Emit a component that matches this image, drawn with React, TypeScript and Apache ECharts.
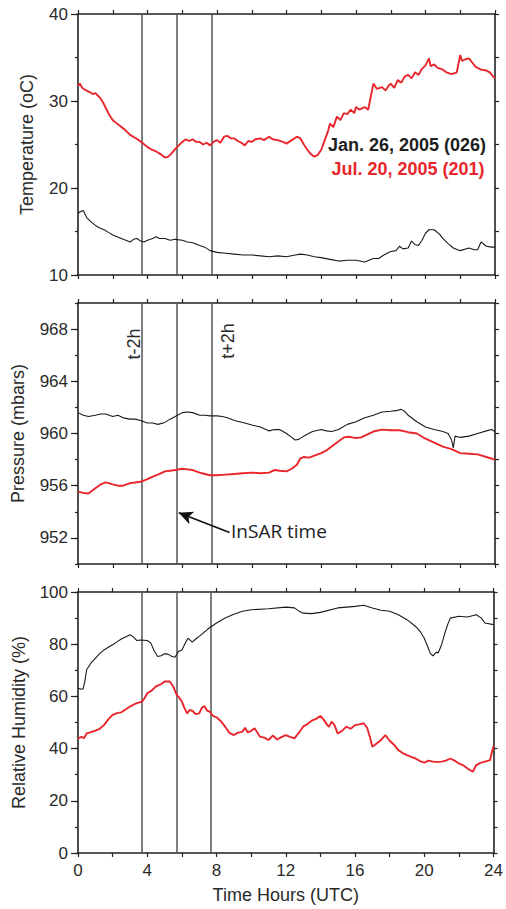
import React, { useEffect, useRef } from "react";
import * as echarts from "echarts";

// ---------- data (hours UTC, value) ----------
const tempJan: [number, number][] = [
  [0, 17.1], [0.15, 17.3], [0.3, 17.4], [0.5, 16.6], [0.75, 16.1], [1, 15.7], [1.25, 15.4], [1.5, 15.2],
  [1.75, 14.9], [2, 14.6], [2.25, 14.4], [2.5, 14.2], [2.75, 14.0], [3, 13.8], [3.2, 14.1], [3.4, 14.2],
  [3.6, 13.9], [3.8, 13.8], [4, 14.0], [4.3, 14.2], [4.5, 14.4], [4.7, 14.2], [5, 14.2], [5.3, 14.0],
  [5.6, 14.1], [6, 14.0], [6.3, 13.8], [6.6, 13.7], [7, 13.4], [7.3, 13.2], [7.6, 12.8], [8, 12.6],
  [8.5, 12.5], [9, 12.4], [9.5, 12.3], [10, 12.3], [10.5, 12.2], [11, 12.1], [11.5, 12.2], [12, 12.1],
  [12.5, 12.3], [12.8, 12.4], [13.2, 12.3], [13.6, 12.1], [14, 12.0], [14.5, 11.8], [15, 11.6], [15.5, 11.7],
  [16, 11.7], [16.5, 11.5], [17, 11.9], [17.3, 11.9], [17.6, 12.3], [18, 12.7], [18.3, 12.8], [18.5, 13.3],
  [18.7, 13.0], [19, 13.1], [19.2, 13.9], [19.4, 13.5], [19.6, 13.4], [19.8, 14.0], [20, 14.8], [20.2, 15.2],
  [20.5, 15.2], [20.8, 14.7], [21, 14.2], [21.3, 13.6], [21.6, 13.1], [22, 12.8], [22.5, 13.1], [22.8, 12.9],
  [23, 12.9], [23.2, 13.8], [23.5, 13.3], [23.8, 13.2], [24, 13.2],
];

const tempJul: [number, number][] = [
  [0, 31.8], [0.1, 32.0], [0.25, 31.5], [0.4, 31.3], [0.5, 31.2], [0.7, 31.0], [0.85, 30.8], [1, 30.9],
  [1.15, 30.6], [1.3, 30.3], [1.45, 29.8], [1.6, 29.2], [1.75, 28.6], [1.9, 28.1], [2, 27.8], [2.25, 27.4],
  [2.5, 27.0], [2.75, 26.6], [3, 26.1], [3.25, 25.8], [3.5, 25.5], [3.7, 25.2], [4, 24.7], [4.25, 24.4],
  [4.5, 24.2], [4.75, 23.9], [5, 23.5], [5.2, 23.6], [5.4, 24.0], [5.6, 24.5], [5.8, 24.9], [6, 25.3],
  [6.2, 25.6], [6.4, 25.4], [6.6, 25.6], [6.8, 25.3], [7, 25.3], [7.2, 25.0], [7.4, 25.2], [7.6, 24.9],
  [7.8, 25.3], [8, 25.5], [8.2, 25.2], [8.4, 25.9], [8.6, 26.0], [8.8, 25.7], [9, 25.7], [9.2, 25.4],
  [9.4, 25.2], [9.6, 24.9], [9.8, 25.4], [10, 25.3], [10.2, 25.6], [10.5, 25.7], [10.7, 25.5], [11, 25.9],
  [11.2, 25.6], [11.5, 25.5], [11.8, 25.3], [12, 25.1], [12.3, 25.5], [12.6, 25.9], [12.8, 25.7], [13, 25.0],
  [13.2, 24.4], [13.4, 23.9], [13.6, 23.6], [13.8, 23.8], [14, 24.4], [14.2, 25.5], [14.4, 26.6], [14.5, 27.4],
  [14.7, 27.0], [14.9, 28.2], [15.1, 27.8], [15.3, 28.6], [15.5, 28.5], [15.7, 29.0], [15.9, 28.6], [16, 29.3],
  [16.2, 29.0], [16.5, 29.3], [16.7, 29.0], [16.9, 31.0], [17, 32.0], [17.2, 31.4], [17.5, 31.6], [17.7, 31.2],
  [17.9, 31.8], [18, 32.0], [18.2, 31.5], [18.4, 32.4], [18.6, 32.1], [18.8, 32.8], [19, 33.0], [19.2, 32.6],
  [19.4, 33.3], [19.6, 33.0], [19.8, 33.7], [20, 34.1], [20.2, 34.9], [20.3, 34.0], [20.5, 34.2], [20.7, 33.8],
  [21, 33.6], [21.2, 33.3], [21.5, 33.1], [21.8, 33.3], [22, 35.3], [22.1, 34.6], [22.3, 34.8], [22.5, 34.9],
  [22.7, 34.4], [22.9, 33.9], [23, 33.8], [23.2, 33.6], [23.5, 33.5], [23.7, 33.3], [23.9, 32.8], [24, 32.6],
];

const presJan: [number, number][] = [
  [0, 961.6], [0.3, 961.4], [0.6, 961.3], [1, 961.4], [1.3, 961.5], [1.6, 961.5], [2, 961.3], [2.3, 961.4],
  [2.6, 961.2], [3, 961.1], [3.3, 961.1], [3.6, 961.0], [4, 960.8], [4.3, 960.8], [4.6, 960.7], [5, 960.85],
  [5.3, 961.1], [5.6, 961.3], [6, 961.6], [6.3, 961.65], [6.6, 961.6], [7, 961.4], [7.3, 961.4], [7.6, 961.35],
  [8, 961.35], [8.3, 961.3], [8.6, 961.2], [9, 961.0], [9.3, 960.9], [9.6, 960.8], [10, 960.65], [10.5, 960.5],
  [11, 960.2], [11.3, 960.3], [11.6, 960.3], [12, 960.0], [12.3, 959.7], [12.5, 959.5], [12.7, 959.55], [13, 959.8],
  [13.5, 960.15], [14, 960.3], [14.3, 960.2], [14.6, 960.15], [15, 960.3], [15.5, 960.7], [16, 960.9], [16.5, 961.2],
  [17, 961.4], [17.5, 961.65], [18, 961.7], [18.3, 961.75], [18.6, 961.85], [18.8, 961.7], [19, 961.4], [19.5, 960.9],
  [20, 960.5], [20.5, 960.3], [21, 960.15], [21.3, 960.0], [21.5, 959.5], [21.6, 958.9], [21.7, 959.8], [22, 959.7],
  [22.5, 959.8], [23, 960.0], [23.5, 960.2], [23.8, 960.3], [24, 960.15],
];

const presJul: [number, number][] = [
  [0, 955.55], [0.3, 955.45], [0.6, 955.4], [1, 955.8], [1.3, 956.1], [1.6, 956.25], [2, 956.1], [2.3, 956.0],
  [2.6, 956.0], [3, 956.2], [3.3, 956.25], [3.6, 956.3], [4, 956.5], [4.3, 956.7], [4.6, 956.85], [5, 957.1],
  [5.3, 957.15], [5.6, 957.2], [6, 957.3], [6.3, 957.25], [6.6, 957.2], [7, 957.0], [7.3, 956.9], [7.6, 956.8],
  [8, 956.8], [8.5, 956.85], [9, 956.9], [9.5, 956.95], [10, 957.0], [10.5, 956.95], [11, 957.0], [11.3, 957.2],
  [11.6, 957.15], [12, 957.1], [12.3, 957.3], [12.6, 957.6], [12.8, 958.1], [13, 958.2], [13.3, 958.15], [13.6, 958.3],
  [14, 958.5], [14.3, 958.7], [14.6, 959.0], [15, 959.4], [15.3, 959.7], [15.6, 959.75], [16, 959.65], [16.3, 959.7],
  [16.6, 959.9], [17, 960.15], [17.5, 960.3], [18, 960.25], [18.5, 960.25], [19, 960.1], [19.5, 960.0], [20, 959.6],
  [20.5, 959.3], [21, 959.0], [21.5, 958.8], [22, 958.5], [22.5, 958.45], [23, 958.4], [23.5, 958.2], [24, 958.0],
];

const rhJan: [number, number][] = [
  [0, 63.1], [0.15, 62.8], [0.3, 62.9], [0.4, 66], [0.5, 70.2], [0.75, 72.8], [1, 74.6], [1.25, 76.4],
  [1.5, 77.8], [1.75, 78.8], [2, 79.8], [2.25, 80.9], [2.5, 82.0], [2.75, 82.8], [3, 83.6], [3.2, 82.8],
  [3.4, 81.4], [3.6, 81.6], [4, 81.4], [4.2, 80.5], [4.4, 77.5], [4.6, 75.3], [4.8, 75.6], [5, 76.3],
  [5.2, 76.2], [5.4, 75.4], [5.6, 75.0], [5.8, 77.2], [6, 77.8], [6.2, 80.5], [6.35, 82.3], [6.6, 80.8],
  [6.8, 82.0], [7, 83.0], [7.5, 85.8], [8, 88.1], [8.5, 90.0], [9, 91.5], [9.5, 92.6], [10, 93.2],
  [11, 93.6], [12, 94.2], [12.5, 93.9], [12.8, 92.5], [13, 91.9], [13.5, 91.7], [14, 92.2], [15, 93.9],
  [16, 94.5], [16.5, 94.9], [17, 93.9], [17.5, 93.0], [18, 92.6], [18.5, 91.3], [19, 89.4], [19.5, 86.8],
  [19.8, 84.5], [20, 82.3], [20.2, 79.0], [20.35, 76.5], [20.5, 75.5], [20.7, 77.0], [20.8, 76.6], [21, 79.8],
  [21.2, 84.5], [21.35, 87.5], [21.5, 90.0], [22, 90.7], [22.5, 90.4], [23, 91.3], [23.3, 90.0], [23.5, 88.1],
  [24, 87.5],
];

const rhJul: [number, number][] = [
  [0, 43.9], [0.2, 44.5], [0.35, 44.0], [0.5, 45.8], [0.75, 46.3], [1, 46.9], [1.25, 47.6], [1.5, 49.0],
  [1.75, 51.2], [2, 52.9], [2.25, 53.6], [2.5, 53.9], [2.75, 55.0], [3, 56.1], [3.25, 57.0], [3.5, 57.6],
  [3.7, 58.0], [3.85, 59.4], [4, 61.2], [4.25, 62.2], [4.5, 63.8], [4.75, 64.5], [5, 65.7], [5.3, 65.7],
  [5.5, 63.8], [5.7, 60.6], [5.85, 59.5], [6, 58.0], [6.15, 55.5], [6.3, 53.5], [6.45, 54.8], [6.6, 54.5],
  [6.8, 53.2], [7, 53.5], [7.15, 55.6], [7.3, 56.3], [7.45, 54.6], [7.6, 54.2], [7.8, 52.5], [8, 52.0],
  [8.25, 50.5], [8.5, 48.4], [8.75, 46.0], [9, 45.2], [9.25, 46.1], [9.5, 46.5], [9.65, 48.0], [9.8, 46.2],
  [10, 46.8], [10.2, 47.8], [10.5, 44.6], [10.75, 44.2], [11, 43.3], [11.25, 45.0], [11.5, 43.5], [11.75, 44.4],
  [12, 45.2], [12.25, 44.5], [12.5, 43.9], [12.75, 46.0], [13, 48.4], [13.25, 49.4], [13.5, 50.7], [13.75, 51.4],
  [14, 52.5], [14.2, 51.0], [14.4, 49.0], [14.5, 48.4], [14.65, 50.3], [14.8, 49.2], [15, 45.8], [15.25, 46.8],
  [15.5, 48.4], [15.75, 47.6], [16, 49.0], [16.25, 49.3], [16.5, 49.7], [16.7, 48.0], [16.85, 44.6], [17, 40.7],
  [17.25, 42.0], [17.5, 43.3], [17.75, 45.2], [18, 43.0], [18.25, 41.5], [18.5, 39.4], [18.75, 38.3], [19, 37.5],
  [19.25, 36.8], [19.5, 36.2], [19.75, 35.2], [20, 34.6], [20.25, 35.4], [20.5, 35.0], [20.75, 34.8], [21, 35.0],
  [21.25, 35.4], [21.5, 36.2], [21.75, 35.4], [22, 34.3], [22.25, 33.6], [22.5, 32.4], [22.8, 31.1], [23, 33.7],
  [23.25, 34.5], [23.5, 35.0], [23.8, 35.6], [23.9, 38.5], [24, 41.0],
];

// reference times (hours UTC): t-2h, InSAR time, t+2h
const refTimes = [3.68, 5.68, 7.68];
// InSAR arrow (tail -> head), in data units of the pressure panel
const arrowTail: [number, number] = [8.72, 952.41];
const arrowHead: [number, number] = [5.8, 953.92];

const xTicks = { min: 0, max: 24, minor: 2, major: 4 };
const panels = [
  { name: "Temperature (oC)", min: 10, max: 40, minor: 5, major: 10, labelStart: 10, gap: 42 },
  { name: "Pressure (mbars)", min: 950, max: 970, minor: 2, major: 4, labelStart: 952, gap: 51 },
  { name: "Relative Humidity (%)", min: 0, max: 100, minor: 10, major: 20, labelStart: 0, gap: 50 },
];
const seriesJan = [tempJan, presJan, rhJan];
const seriesJul = [tempJul, presJul, rhJul];

const FONT = '"Liberation Sans", Arial, Helvetica, sans-serif';
const AXIS = "#222";
const TEXT = "#2a2a2a";
const RED = "#e8262c";

export default function App() {
  const ref = useRef<HTMLDivElement>(null);

  useEffect(() => {
    if (!ref.current) return;
    const chart = echarts.init(ref.current, undefined, { renderer: "svg" });

    const gridTops = [14, 303, 592];
    const grid = gridTops.map((t) => ({ left: 78, right: 11, top: t, height: 261, show: false }));

    const xAxis: any[] = [];
    const yAxis: any[] = [];
    const series: any[] = [];

    panels.forEach((p, g) => {
      const isLast = g === panels.length - 1;
      // bottom x axis (index 2g)
      xAxis.push({
        gridIndex: g,
        type: "value",
        position: "bottom",
        min: xTicks.min,
        max: xTicks.max,
        interval: xTicks.minor,
        axisLine: { show: true, onZero: false, lineStyle: { color: AXIS, width: 1.6 } },
        axisTick: { show: true, inside: false, length: 4, lineStyle: { color: AXIS, width: 1.2 } },
        axisLabel: {
          show: isLast,
          margin: 9,
          fontSize: 17,
          fontFamily: FONT,
          color: TEXT,
          formatter: (v: number) => (v % xTicks.major === 0 ? String(v) : ""),
        },
        splitLine: { show: false },
        name: isLast ? "Time Hours (UTC)" : "",
        nameLocation: "middle",
        nameGap: 33,
        nameTextStyle: { fontSize: 18, fontFamily: FONT, color: TEXT },
      });
      // top x axis (frame)
      xAxis.push({
        gridIndex: g,
        type: "value",
        position: "top",
        min: xTicks.min,
        max: xTicks.max,
        interval: xTicks.minor,
        axisLine: { show: true, onZero: false, lineStyle: { color: AXIS, width: 1.6 } },
        axisTick: { show: true, inside: false, length: 4, lineStyle: { color: AXIS, width: 1.2 } },
        axisLabel: { show: false },
        splitLine: { show: false },
      });

      const majors: number[] = [];
      for (let v = p.labelStart; v <= p.max; v += p.major) majors.push(v);

      // left y axis (index 3g) with labels
      yAxis.push({
        gridIndex: g,
        type: "value",
        position: "left",
        min: p.min,
        max: p.max,
        interval: p.minor,
        axisLine: { show: true, onZero: false, lineStyle: { color: AXIS, width: 1.6 } },
        axisTick: { show: true, inside: false, length: 3, lineStyle: { color: AXIS, width: 1.2 } },
        axisLabel: {
          show: true,
          margin: 10,
          fontSize: 17,
          fontFamily: FONT,
          color: TEXT,
          formatter: (v: number) => (majors.indexOf(v) >= 0 ? String(v) : ""),
        },
        splitLine: { show: false },
        name: p.name,
        nameLocation: "middle",
        nameRotate: 90,
        nameGap: p.gap,
        nameTextStyle: { fontSize: 18, fontFamily: FONT, color: TEXT },
      });
      // left y overlay: longer ticks at labelled values
      yAxis.push({
        gridIndex: g,
        type: "value",
        position: "left",
        min: p.min,
        max: p.max,
        interval: p.major,
        axisLine: { show: false },
        axisTick: { show: true, inside: false, length: 7, customValues: majors, lineStyle: { color: AXIS, width: 1.2 } },
        axisLabel: { show: false },
        splitLine: { show: false },
      });
      // right y axis (frame)
      yAxis.push({
        gridIndex: g,
        type: "value",
        position: "right",
        min: p.min,
        max: p.max,
        interval: p.minor,
        axisLine: { show: true, onZero: false, lineStyle: { color: AXIS, width: 1.6 } },
        axisTick: { show: true, inside: false, length: 4, lineStyle: { color: AXIS, width: 1.2 } },
        axisLabel: { show: false },
        splitLine: { show: false },
      });

      series.push({
        type: "line",
        name: "Jan. 26, 2005 (026)",
        xAxisIndex: 2 * g,
        yAxisIndex: 3 * g,
        data: seriesJan[g],
        showSymbol: false,
        symbol: "none",
        lineStyle: { color: "#1a1a1a", width: 1.1 },
        z: 3,
        markLine: {
          silent: true,
          symbol: ["none", "none"],
          label: { show: false },
          lineStyle: { color: "#555", width: 1.5, type: "solid" },
          data: refTimes.map((t) => ({ xAxis: t })),
          z: 2,
        },
      });
      const red: any = {
        type: "line",
        name: "Jul. 20, 2005 (201)",
        xAxisIndex: 2 * g,
        yAxisIndex: 3 * g,
        data: seriesJul[g],
        showSymbol: false,
        symbol: "none",
        lineStyle: { color: RED, width: 1.9 },
        z: 4,
      };
      if (g === 1) {
        red.markLine = {
          silent: true,
          symbol: ["none", "arrow"],
          symbolSize: [10, 14],
          label: { show: false },
          lineStyle: { color: "#111", width: 1.6, type: "solid" },
          itemStyle: { color: "#111" },
          data: [[{ coord: arrowTail }, { coord: arrowHead }]],
        };
      }
      series.push(red);
    });

    const graphic: any[] = [
      {
        type: "text",
        x: 407,
        y: 145,
        style: {
          text: "Jan. 26, 2005 (026)",
          fill: "#1e1e1e",
          font: `bold 18px ${FONT}`,
          align: "center",
          verticalAlign: "middle",
        },
      },
      {
        type: "text",
        x: 408,
        y: 169,
        style: {
          text: "Jul. 20, 2005 (201)",
          fill: RED,
          font: `bold 18px ${FONT}`,
          align: "center",
          verticalAlign: "middle",
        },
      },
      {
        type: "text",
        x: 134,
        y: 344,
        rotation: Math.PI / 2,
        style: { text: "t-2h", fill: TEXT, font: `18px ${FONT}`, align: "center", verticalAlign: "middle" },
      },
      {
        type: "text",
        x: 228,
        y: 341,
        rotation: Math.PI / 2,
        style: { text: "t+2h", fill: TEXT, font: `18px ${FONT}`, align: "center", verticalAlign: "middle" },
      },
      {
        type: "text",
        x: 231,
        y: 531,
        style: {
          text: "InSAR time",
          fill: "#222",
          font: `19px "Open Sans", ${FONT}`,
          align: "left",
          verticalAlign: "middle",
        },
      },
    ];

    chart.setOption({
      animation: false,
      backgroundColor: "#ffffff",
      grid,
      xAxis,
      yAxis,
      series,
      graphic,
    });

    return () => chart.dispose();
  }, []);

  return (
    <div
      ref={ref}
      style={{ position: "absolute", left: 0, top: 0, width: 506, height: 909, background: "#fff" }}
    />
  );
}
